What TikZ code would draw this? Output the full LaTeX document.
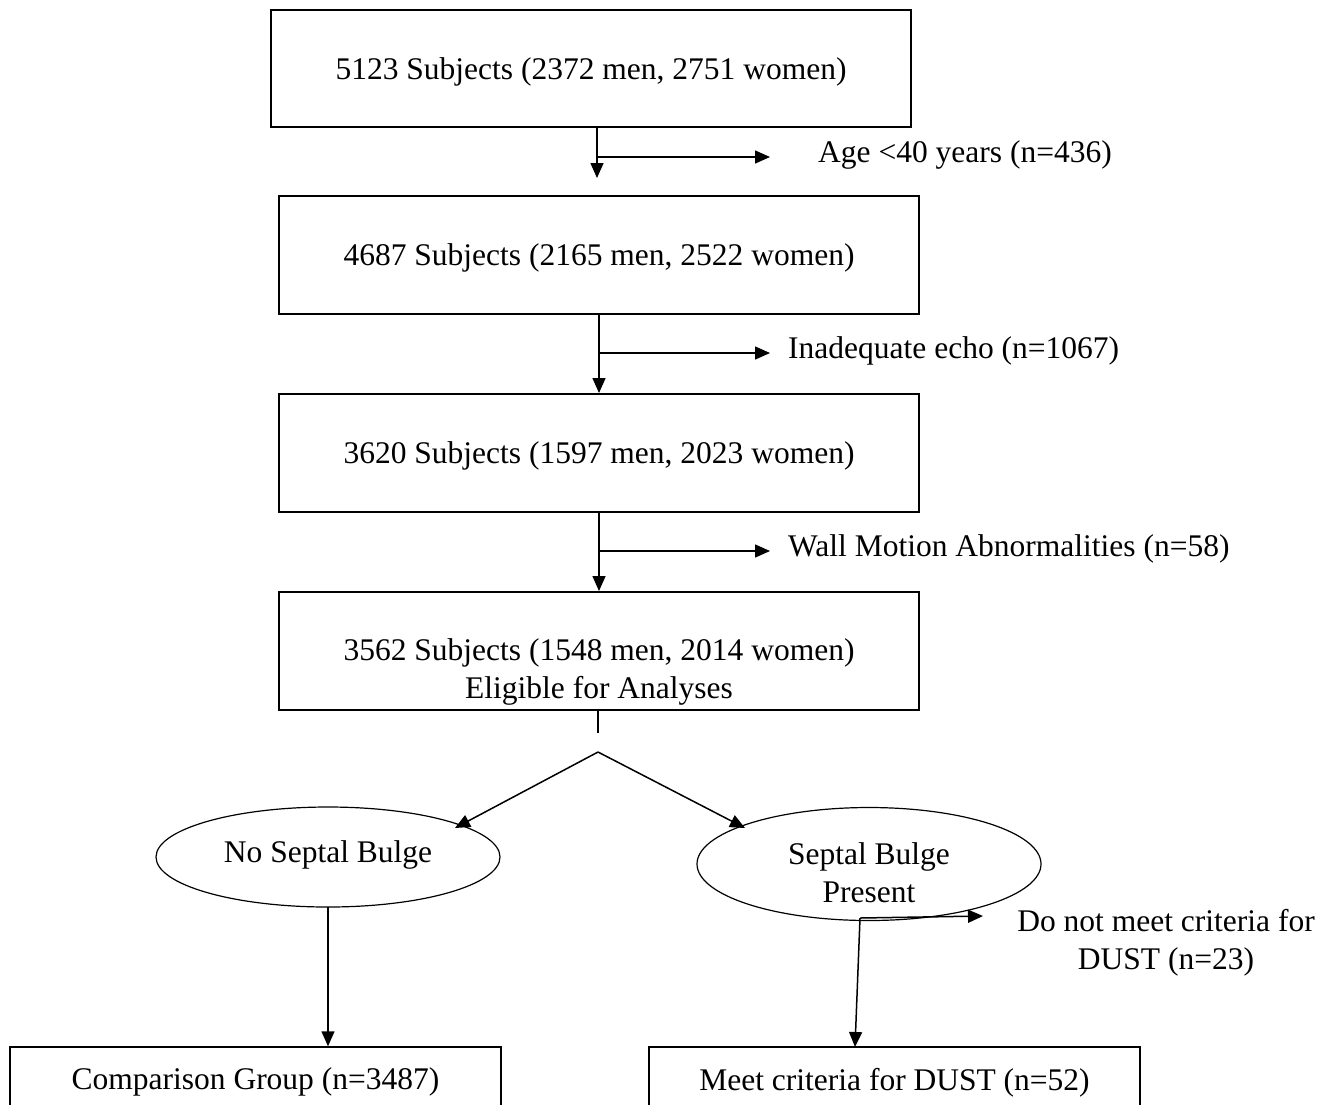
\documentclass[tikz,border=0pt]{standalone}
\usepackage{fontspec}
\setmainfont{Liberation Serif}
\usetikzlibrary{arrows.meta,shapes.geometric}
\begin{document}
\begin{tikzpicture}[x=1pt,y=-1pt,
  every node/.style={font=\fontsize{31.5}{38}\selectfont},
  box/.style={draw,line width=1.5pt,minimum width=640pt,minimum height=118pt,inner sep=0pt,align=center,text depth=0pt},
  lowbox/.style={draw,line width=1.5pt,minimum width=491pt,minimum height=64pt,inner sep=0pt,align=center,text depth=0pt},
  oval/.style={draw,ellipse,line width=1.2pt,minimum width=344pt,inner sep=0pt,align=center},
  lbl/.style={inner sep=0pt,align=center},
  arr/.style={-{Triangle[length=15pt,width=13pt]},line width=1.5pt},
  ln/.style={line width=1.5pt}]
\clip (0,0) rectangle (1337,1104);
\fill[white] (0,0) rectangle (1337,1104);
% boxes
\node[box,minimum height=117pt] (b1) at (591,68.5) {5123 Subjects (2372 men, 2751 women)};
\node[box] (b2) at (599,255) {4687 Subjects (2165 men, 2522 women)};
\node[box] (b3) at (599,453) {3620 Subjects (1597 men, 2023 women)};
\node[box,label={[lbl,yshift=-21pt]center:3562 Subjects (1548 men, 2014 women)\\Eligible for Analyses}] (b4) at (599,651) {};
% exclusion labels
\node[lbl,anchor=west] (x1) at (818,155) {Age <40 years (n=436)};
\node[lbl,anchor=west] (x2) at (788,351) {Inadequate echo (n=1067)};
\node[lbl,anchor=west] (x3) at (788,549) {Wall Motion Abnormalities (n=58)};
% coordinates for arrows
\coordinate (s1) at (597,127);
\coordinate (t1) at (597,178);
\coordinate (j1) at (597,157);
\coordinate (k1) at (770,157);
\coordinate (s2) at (599,314);
\coordinate (t2) at (599,393);
\coordinate (j2) at (599,353);
\coordinate (k2) at (770,353);
\coordinate (s3) at (599,512);
\coordinate (t3) at (599,591);
\coordinate (j3) at (599,551);
\coordinate (k3) at (770,551);
\draw[arr] (s1) -- (t1);
\draw[arr] (j1) -- (k1);
\draw[arr] (s2) -- (t2);
\draw[arr] (j2) -- (k2);
\draw[arr] (s3) -- (t3);
\draw[arr] (j3) -- (k3);
% split
\coordinate (s4) at (598,710);
\coordinate (s4e) at (598,733);
\coordinate (apex) at (598,752);
\coordinate (la) at (455,828);
\coordinate (ra) at (745,828);
\draw[ln] (s4) -- (s4e);
\draw[arr] (apex) -- (la);
\draw[arr] (apex) -- (ra);
% ellipses
\node[oval,minimum height=100pt,label={[lbl,yshift=2pt]center:No Septal Bulge}] (e1) at (328,857) {};
\node[oval,minimum height=113pt,label={[lbl,yshift=-9pt]center:Septal Bulge\\Present}] (e2) at (869,864) {};
% bottom boxes
\node[lowbox] (b5) at (255.5,1079) {Comparison Group (n=3487)};
\node[lowbox] (b6) at (894.5,1079) {Meet criteria for DUST (n=52)};
\node[lbl] (x4) at (1166,943) {Do not meet criteria for\\DUST (n=23)};
% lower arrows
\coordinate (f1) at (328,907);
\draw[arr] (f1) -- (f1 |- b6.north);
\coordinate (f2) at (860,918);
\coordinate (g2) at (855,1047);
\coordinate (h2) at (983,916);
\draw[arr] (f2) -- (g2);
\draw[arr] (f2) -- (h2);
\end{tikzpicture}
\end{document}
